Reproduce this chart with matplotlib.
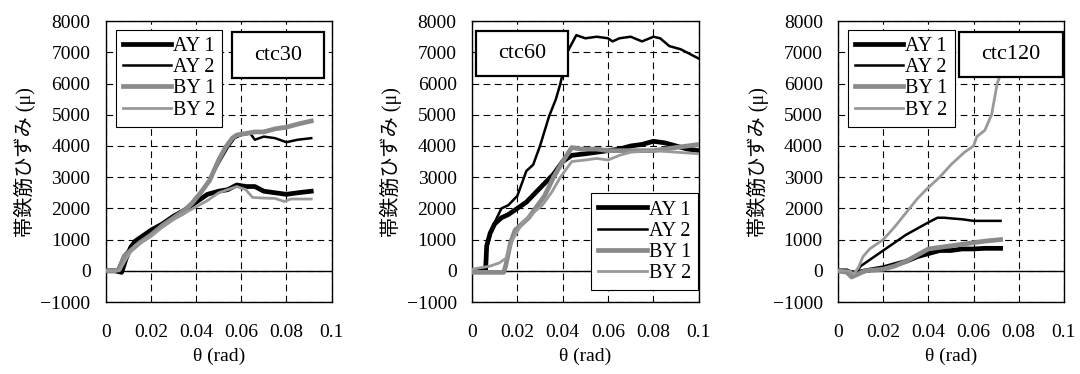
import matplotlib
matplotlib.use("Agg")
import matplotlib.pyplot as plt
from matplotlib.patches import Rectangle

plt.rcParams['font.family'] = ['Liberation Serif', 'Noto Sans CJK JP']

# ---- data ----
series_names = ['AY 1', 'AY 2', 'BY 1', 'BY 2']
panel_titles = ['ctc30', 'ctc60', 'ctc120']

# ctc30
ay1_30_x = [0, 0.004, 0.007, 0.009, 0.011, 0.013, 0.016, 0.02, 0.025, 0.03, 0.035, 0.04, 0.045,
            0.05, 0.054, 0.058, 0.062, 0.066, 0.07, 0.075, 0.08, 0.085, 0.091]
ay1_30_y = [0, 0, -50, 400, 750, 950, 1100, 1300, 1500, 1750, 1950, 2200, 2450,
            2550, 2600, 2750, 2700, 2700, 2550, 2500, 2450, 2500, 2550]
ay2_30_x = [0, 0.005, 0.008, 0.012, 0.016, 0.02, 0.025, 0.03, 0.035, 0.04, 0.045, 0.05, 0.054,
            0.057, 0.06, 0.064, 0.066, 0.07, 0.075, 0.08, 0.085, 0.091]
ay2_30_y = [0, 0, 500, 800, 1000, 1150, 1400, 1650, 1850, 2250, 2800, 3450, 3950,
            4250, 4350, 4400, 4200, 4300, 4250, 4120, 4200, 4250]
by1_30_x = [0, 0.004, 0.006, 0.008, 0.011, 0.015, 0.02, 0.025, 0.03, 0.035, 0.038, 0.042, 0.046,
            0.05, 0.053, 0.056, 0.058, 0.062, 0.066, 0.07, 0.075, 0.08, 0.085, 0.091]
by1_30_y = [0, 0, 50, 450, 650, 900, 1150, 1450, 1700, 1950, 2150, 2500, 2900,
            3550, 3950, 4250, 4350, 4400, 4450, 4450, 4550, 4600, 4700, 4800]
by2_30_x = [0, 0.006, 0.01, 0.013, 0.02, 0.025, 0.03, 0.035, 0.04, 0.045, 0.05, 0.054, 0.058,
            0.062, 0.065, 0.07, 0.075, 0.079, 0.082, 0.091]
by2_30_y = [0, 0, 500, 800, 1100, 1400, 1650, 1850, 2050, 2250, 2500, 2600, 2700,
            2600, 2350, 2330, 2320, 2220, 2300, 2300]

# ctc60
ay1_60_x = [0, 0.006, 0.0065, 0.008, 0.01, 0.013, 0.016, 0.02, 0.024, 0.028, 0.032, 0.036, 0.04,
            0.044, 0.05, 0.055, 0.06, 0.065, 0.07, 0.075, 0.08, 0.085, 0.09, 0.095, 0.1]
ay1_60_y = [0, 0, 800, 1200, 1500, 1700, 1800, 2000, 2200, 2500, 2800, 3100, 3500,
            3700, 3750, 3800, 3850, 3900, 4000, 4050, 4150, 4100, 4000, 3900, 3850]
ay2_60_x = [0, 0.006, 0.0065, 0.009, 0.013, 0.016, 0.02, 0.024, 0.027, 0.03, 0.034, 0.037, 0.039,
            0.042, 0.046, 0.05, 0.055, 0.06, 0.062, 0.065, 0.07, 0.075, 0.08, 0.083, 0.087,
            0.092, 0.096, 0.1]
ay2_60_y = [0, 0, 700, 1400, 2000, 2100, 2400, 3200, 3400, 4000, 4950, 5500, 6000,
            7000, 7550, 7450, 7500, 7450, 7350, 7450, 7500, 7350, 7500, 7450, 7200,
            7100, 6950, 6800]
by1_60_x = [0, 0.014, 0.015, 0.017, 0.019, 0.022, 0.025, 0.028, 0.032, 0.036, 0.04, 0.044, 0.048,
            0.055, 0.06, 0.07, 0.08, 0.09, 0.1]
by1_60_y = [-50, -50, 200, 900, 1300, 1500, 1700, 2000, 2400, 3000, 3500, 3950, 3900,
            3900, 3850, 3850, 3850, 3950, 4050]
by2_60_x = [0, 0.008, 0.012, 0.015, 0.018, 0.022, 0.026, 0.031, 0.035, 0.039, 0.044, 0.05, 0.055,
            0.06, 0.065, 0.07, 0.08, 0.09, 0.1]
by2_60_y = [50, 150, 250, 400, 1000, 1500, 1800, 2100, 2500, 3000, 3500, 3550, 3600,
            3550, 3700, 3800, 3850, 3800, 3750]

# ctc120
ay1_120_x = [0, 0.004, 0.006, 0.009, 0.012, 0.02, 0.025, 0.03, 0.035, 0.04, 0.045, 0.05, 0.055,
             0.06, 0.065, 0.072]
ay1_120_y = [0, 0, -100, -50, 0, 100, 200, 300, 450, 550, 650, 650, 700, 700, 720, 720]
ay2_120_x = [0, 0.005, 0.008, 0.01, 0.015, 0.02, 0.025, 0.03, 0.035, 0.04, 0.044, 0.047, 0.05,
             0.055, 0.06, 0.065, 0.072]
ay2_120_y = [0, 0, -50, 150, 400, 650, 900, 1150, 1350, 1550, 1700, 1700, 1680,
             1650, 1600, 1600, 1600]
by1_120_x = [0, 0.004, 0.006, 0.009, 0.012, 0.02, 0.025, 0.03, 0.035, 0.04, 0.045, 0.05, 0.055,
             0.06, 0.065, 0.072]
by1_120_y = [0, -50, -200, -100, 0, 50, 150, 300, 500, 700, 750, 800, 850, 900, 950, 1000]
by2_120_x = [0, 0.005, 0.007, 0.009, 0.011, 0.014, 0.018, 0.02, 0.025, 0.03, 0.035, 0.039, 0.045,
             0.05, 0.056, 0.06, 0.0615, 0.065, 0.068, 0.0705, 0.072]
by2_120_y = [0, 0, -100, 100, 450, 700, 900, 1000, 1400, 1850, 2300, 2600, 3000,
             3400, 3800, 4000, 4300, 4500, 5000, 6000, 6300]

panels = [
    [(ay1_30_x, ay1_30_y), (ay2_30_x, ay2_30_y), (by1_30_x, by1_30_y), (by2_30_x, by2_30_y)],
    [(ay1_60_x, ay1_60_y), (ay2_60_x, ay2_60_y), (by1_60_x, by1_60_y), (by2_60_x, by2_60_y)],
    [(ay1_120_x, ay1_120_y), (ay2_120_x, ay2_120_y), (by1_120_x, by1_120_y), (by2_120_x, by2_120_y)],
]

styles = [('black', 3.4), ('black', 1.8), ('#8a8a8a', 3.4), ('#999999', 2.0)]

# layout: axes rects (fig fraction), legend anchors, title boxes (axes fraction)
ax_rects = [[0.098, 0.1925, 0.209, 0.751],
            [0.437, 0.1925, 0.210, 0.751],
            [0.776, 0.1925, 0.209, 0.751]]
leg_opts = [dict(loc='upper left', bbox_to_anchor=(0.044, 0.968)),
            dict(loc='lower right', bbox_to_anchor=(0.996, 0.043)),
            dict(loc='upper left', bbox_to_anchor=(0.044, 0.968))]
title_boxes = [(0.558, 0.797, 0.407, 0.164),
               (0.018, 0.804, 0.405, 0.160),
               (0.535, 0.800, 0.460, 0.160)]

fig = plt.figure(figsize=(10.8, 3.74), dpi=100)

for k in range(3):
    ax = fig.add_axes(ax_rects[k])
    for (x, y), name, (c, lw) in zip(panels[k], series_names, styles):
        ax.plot(x, y, color=c, lw=lw, label=name, zorder=3)
    ax.set_xlim(0, 0.1)
    ax.set_ylim(-1000, 8000)
    ax.set_xticks([0, 0.02, 0.04, 0.06, 0.08, 0.1])
    ax.set_xticklabels(['0', '0.02', '0.04', '0.06', '0.08', '0.1'])
    ax.set_yticks(range(-1000, 8001, 1000))
    ax.grid(True, color='black', lw=0.8, ls=(0, (6, 4)))
    ax.axhline(0, color='black', lw=1.0, zorder=2)
    ax.tick_params(axis='both', length=0, labelsize=14)
    ax.tick_params(axis='x', pad=16)
    ax.tick_params(axis='y', pad=11)
    for sp in ax.spines.values():
        sp.set_linewidth(1.0)
    ax.set_xlabel('θ (rad)', fontsize=14, labelpad=5)
    ax.set_ylabel('帯鉄筋ひずみ (μ)', fontsize=14.5, labelpad=3)

    leg = ax.legend(fontsize=14.5, frameon=True, fancybox=False, framealpha=1,
                    edgecolor='black', handlelength=2.4, handletextpad=0.1,
                    borderpad=0.35, labelspacing=0.1, borderaxespad=0, **leg_opts[k])
    leg.get_frame().set_linewidth(0.8)
    leg.set_zorder(5)

    bx, by, bw, bh = title_boxes[k]
    ax.add_patch(Rectangle((bx, by), bw, bh, transform=ax.transAxes, facecolor='white',
                           edgecolor='black', lw=1.6, zorder=6))
    ax.text(bx + bw / 2, by + bh / 2, panel_titles[k], transform=ax.transAxes,
            ha='center', va='center', fontsize=16, zorder=7)

fig.savefig('out.png', dpi=100)
